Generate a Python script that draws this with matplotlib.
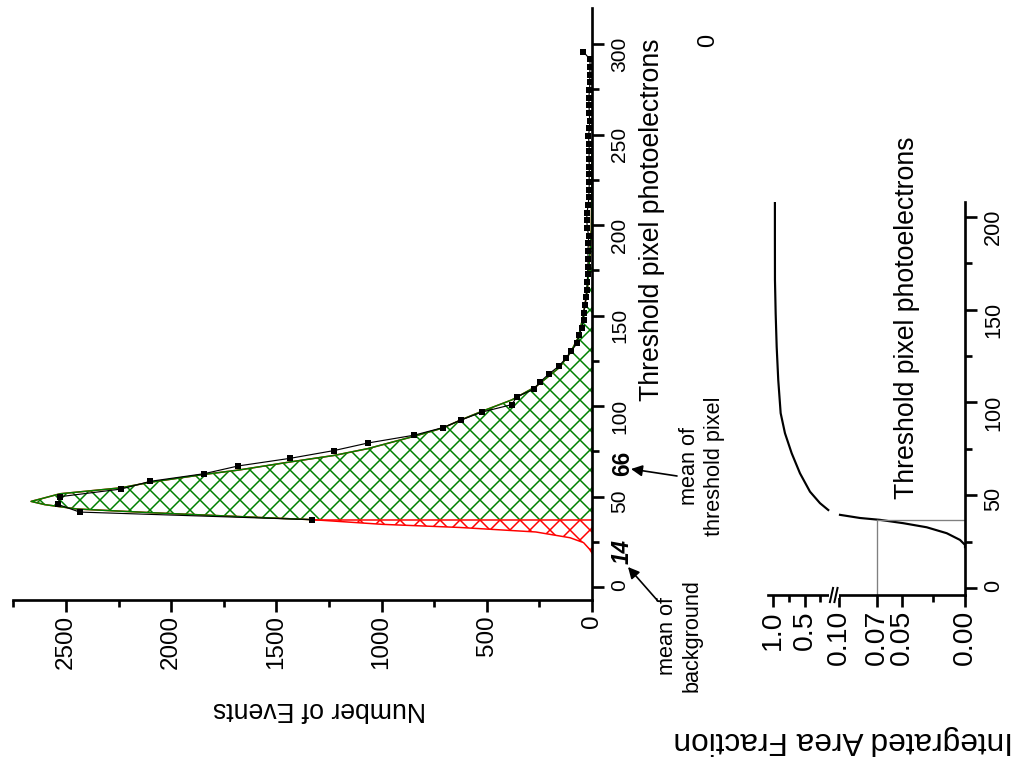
import numpy as np
import matplotlib
matplotlib.use('Agg')
import matplotlib.pyplot as plt
from matplotlib.ticker import FixedLocator, FixedFormatter

# ---------------- data ----------------
# Main histogram: threshold pixel photoelectrons (bin centres) vs number of events
data_pe = [37.2, 41.4, 45.6, 49.9, 54.1, 58.4, 62.6, 66.9, 71.1, 75.4, 79.6, 83.9,
           88.1, 92.3, 96.6, 100.8, 105.1, 109.3, 113.5, 117.8, 122.0, 126.3, 130.5,
           134.7, 139.0, 143.2, 147.5, 151.7, 155.9, 160.2, 164.4, 168.7, 172.9, 177.1,
           181.4, 185.6, 189.9, 194.1, 198.3, 202.6, 206.8, 211.1, 215.3, 219.5, 223.8,
           228.0, 232.3, 236.5, 240.7, 245.0, 249.2, 253.5, 257.7, 261.9, 266.2, 270.4,
           274.7, 278.9, 283.1, 287.4, 291.6, 295.9]
data_ev = [1329, 2435, 2538, 2529, 2239, 2099, 1844, 1681, 1435, 1226, 1064, 845,
           708, 622, 525, 381, 358, 276, 245, 204, 158, 125, 98,
           71, 62, 49, 40, 40, 33, 28, 26, 22, 21, 20,
           18, 20, 17, 16, 22, 25, 24, 18, 15, 14, 13,
           14, 12, 15, 13, 14, 17, 12, 11, 13, 14, 15,
           12, 10, 11, 9, 10, 41]

# Fitted distribution (red below threshold, green above)
fit_pe = [18.8, 20.9, 24.5, 27.2, 30.4, 32.9, 34.6, 37.2, 38.2, 41.0, 43.1, 45.5,
          47.3, 49.0, 51.5, 54.8, 57.9, 62.2, 64.6, 69.1, 72.7, 76.5, 83.3, 87.9,
          92.4, 97.0, 103.4, 110.8, 121.3, 129.8, 138.2, 150.9, 165.7, 180.5, 197.5,
          220.0, 240.0]
fit_ev = [0, 12, 40, 104, 267, 630, 994, 1329, 1539, 2084, 2448, 2600,
          2666, 2610, 2529, 2239, 2099, 1844, 1681, 1435, 1226, 1064, 845, 708,
          622, 525, 381, 266, 155, 101, 64, 40, 21, 12, 3,
          1, 0]
threshold_pe = 37.2

# Inset: integrated area fraction vs threshold pixel photoelectrons
cum_low_pe = [22.0, 23.2, 25.9, 29.5, 32.7, 34.9, 36.7, 37.7, 39.4]
cum_low_frac = [0.0, 0.0, 0.004, 0.0145, 0.0304, 0.049, 0.0675, 0.0833, 0.0992]
cum_up_pe = [42.0, 45.7, 51.9, 61.8, 72.6, 83.4, 94.2, 112.0, 130.0, 148.0, 166.0, 190.0, 209.0]
cum_up_frac = [0.127, 0.258, 0.416, 0.574, 0.705, 0.811, 0.879, 0.917, 0.942, 0.958, 0.969, 0.970, 0.970]
cut_frac = 0.07
cut_pe = 36.7

ev_ticks = [0, 500, 1000, 1500, 2000, 2500]
pe_ticks = [0, 50, 100, 150, 200, 250, 300]
inset_pe_ticks = [0, 50, 100, 150, 200]
frac_ticks = [0.0, 0.05, 0.07, 0.10, 0.5, 1.0]
frac_labels = ['0.00', '0.05', '0.07', '0.10', '0.5', '1.0']
frac_minor = [0.025, 0.25, 0.75]

# ---------------- figure ----------------
W, H, DPI = 1017, 761, 120
plt.rcParams['font.family'] = ['Liberation Sans', 'DejaVu Sans']
plt.rcParams['hatch.linewidth'] = 0.9

fig = plt.figure(figsize=(W / DPI, H / DPI), dpi=DPI)


def fx(x):
    return x / W


def fy(y):
    return 1 - y / H


def rect(l, t, r, b):
    return [fx(l), fy(b), (r - l) / W, (b - t) / H]


SPW = 1.6

# ---- main axes (rotated layout: events run right->left, pe bottom->top)
ax = fig.add_axes(rect(13, 8, 592, 600))
ax.set_xlim(2752, 0)
ax.set_ylim(-7.2, 320)
for s in ['top', 'left']:
    ax.spines[s].set_visible(False)
for s in ['right', 'bottom']:
    ax.spines[s].set_linewidth(SPW)
ax.yaxis.tick_right()
ax.xaxis.set_major_locator(FixedLocator(ev_ticks))
ax.xaxis.set_minor_locator(FixedLocator([250, 750, 1250, 1750, 2250, 2750]))
ax.yaxis.set_major_locator(FixedLocator(pe_ticks))
ax.yaxis.set_minor_locator(FixedLocator([25, 75, 125, 175, 225, 275]))
ax.tick_params(which='major', direction='out', length=7, width=SPW)
ax.tick_params(which='minor', direction='out', length=4.2, width=SPW)
ax.tick_params(axis='x', which='major', labelsize=14.5, labelrotation=90, pad=2)
ax.tick_params(axis='y', which='major', labelsize=12.6, labelrotation=90, pad=4)

fpe = np.array(fit_pe)
fev = np.array(fit_ev)
lo = fpe <= threshold_pe
hi = fpe >= threshold_pe
ax.fill_betweenx(fpe[lo], 0, fev[lo], facecolor='none', edgecolor='red',
                 hatch='xx', linewidth=0)
ax.fill_betweenx(fpe[hi], 0, fev[hi], facecolor='none', edgecolor='green',
                 hatch='xx', linewidth=0)
ax.plot(fev, fpe, color='red', lw=0.9)
ax.plot(fev[hi], fpe[hi], color='green', lw=0.9)
ax.plot([0, fev[fpe == threshold_pe][0]], [threshold_pe, threshold_pe], color='red', lw=0.9)
ax.plot(data_ev, data_pe, color='black', lw=0.7, marker='s', ms=3.6,
        markeredgewidth=0, clip_on=False)

# ---- inset axes with broken fraction axis
LO_S, GAP_T, UP_S = 1260.0, 135.0, 63.3


def fwd(f):
    f = np.asarray(f, dtype=float)
    return np.where(f <= 0.1, f * LO_S, GAP_T + (f - 0.1) * UP_S)


def inv(t):
    t = np.asarray(t, dtype=float)
    return np.where(t <= 0.1 * LO_S, t / LO_S,
                    np.where(t < GAP_T, 0.1, 0.1 + (t - GAP_T) / UP_S))


ax2 = fig.add_axes(rect(768, 202, 965, 595))
ax2.set_xscale('function', functions=(fwd, inv))
FMAX = 1.079
ax2.set_xlim(FMAX, 0)
ax2.set_ylim(-3.8, 208)
for s in ['top', 'left']:
    ax2.spines[s].set_visible(False)
for s in ['right', 'bottom']:
    ax2.spines[s].set_linewidth(SPW)
ax2.yaxis.tick_right()
ax2.xaxis.set_major_locator(FixedLocator(frac_ticks))
ax2.xaxis.set_major_formatter(FixedFormatter(frac_labels))
ax2.xaxis.set_minor_locator(FixedLocator(frac_minor))
ax2.yaxis.set_major_locator(FixedLocator(inset_pe_ticks))
ax2.yaxis.set_minor_locator(FixedLocator([25, 75, 125, 175]))
ax2.tick_params(which='major', direction='out', length=7, width=SPW)
ax2.tick_params(which='minor', direction='out', length=4.2, width=SPW)
ax2.tick_params(axis='x', which='major', labelsize=17, labelrotation=90, pad=2)
ax2.tick_params(axis='y', which='major', labelsize=13, labelrotation=90, pad=4)

ax2.plot(cum_low_frac, cum_low_pe, color='black', lw=1.3)
ax2.plot(cum_up_frac, cum_up_pe, color='black', lw=1.3)
ax2.plot([cut_frac, cut_frac], [-3.8, cut_pe], color='gray', lw=0.8)
ax2.plot([cut_frac, 0], [cut_pe, cut_pe], color='gray', lw=0.8)

# axis-break marks
tmax = float(fwd(FMAX))
xa1 = 1 - 129.0 / tmax
xa2 = 1 - 133.5 / tmax
ax2.plot([xa1, xa2], [0, 0], transform=ax2.transAxes, color='white', lw=3,
         clip_on=False, zorder=5)
for xa in (xa1, xa2):
    ax2.plot([xa - 0.008, xa + 0.008], [-0.018, 0.018], transform=ax2.transAxes,
             color='black', lw=1.2, clip_on=False, zorder=6)

# ---------------- texts ----------------
fig.text(fx(320), fy(709), 'Number of Events', rotation=180, ha='center', va='center', fontsize=16)
fig.text(fx(652), fy(220), 'Threshold pixel photoelectrons', rotation=90, ha='center',
         va='center', fontsize=16)
fig.text(fx(907), fy(318), 'Threshold pixel photoelectrons', rotation=90, ha='center',
         va='center', fontsize=16)
fig.text(fx(843), fy(740), 'Integrated Area Fraction', rotation=180, ha='center',
         va='center', fontsize=19)
fig.text(fx(708), fy(40), '0', rotation=90, ha='center', va='center', fontsize=14)

fig.text(fx(622), fy(552), '14', rotation=90, ha='center', va='center', fontsize=13.5,
         fontweight='bold', fontstyle='italic')
fig.text(fx(623), fy(463), '66', rotation=90, ha='center', va='center', fontsize=13.5,
         fontweight='bold')
fig.text(fx(680), fy(636), 'mean of\nbackground', rotation=90, ha='center', va='center',
         fontsize=13, multialignment='center')
fig.text(fx(702), fy(466), 'mean of\nthreshold pixel', rotation=90, ha='center', va='center',
         fontsize=13, multialignment='center')

arrow = dict(arrowstyle='-|>', color='black', lw=1.0, mutation_scale=14, shrinkA=0, shrinkB=0)
fig.add_artist(matplotlib.patches.FancyArrowPatch((fx(677), fy(476)), (fx(631), fy(469)),
                                                   transform=fig.transFigure, **arrow))
fig.add_artist(matplotlib.patches.FancyArrowPatch((fx(657), fy(600)), (fx(628), fy(567)),
                                                   transform=fig.transFigure, **arrow))

fig.savefig('out.png', dpi=DPI)
